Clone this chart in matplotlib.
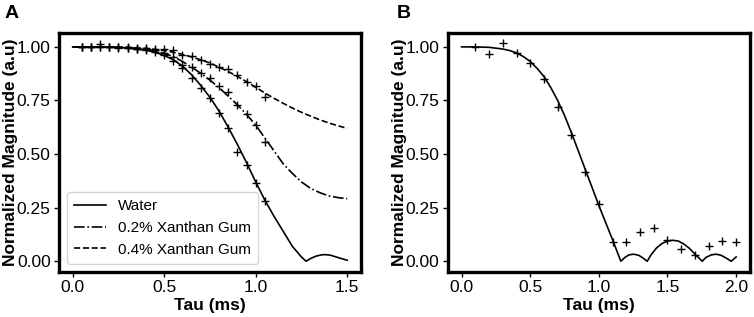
import matplotlib.pyplot as plt
import numpy as np

plt.rcParams['font.family'] = ['Liberation Sans', 'DejaVu Sans']

# ---- panel A : measured points (+) every 0.05 ms
tau_pts_a = np.round(np.arange(0.05, 1.051, 0.05), 2)
water_pts = [1.00, 1.00, 1.015, 1.00, 1.00, 0.995, 0.99, 0.985, 0.975, 0.96, 0.935,
             0.90, 0.857, 0.81, 0.76, 0.69, 0.62, 0.51, 0.447, 0.363, 0.28]
xg02_pts = [1.00, 1.00, 1.00, 1.00, 0.995, 0.995, 0.99, 0.99, 0.985, 0.97, 0.953,
            0.915, 0.905, 0.88, 0.857, 0.818, 0.79, 0.731, 0.685, 0.638, 0.557]
xg04_pts = [1.00, 1.00, 1.00, 1.00, 1.00, 1.00, 0.995, 0.995, 0.99, 0.99, 0.985,
            0.964, 0.958, 0.938, 0.922, 0.904, 0.896, 0.871, 0.837, 0.817, 0.767]

# ---- panel A : fitted curves
tau_fit_a = [0.0, 0.1, 0.2, 0.3, 0.4, 0.45, 0.5, 0.55, 0.6, 0.65, 0.7, 0.75, 0.8,
             0.85, 0.9, 0.95, 1.0, 1.05, 1.1, 1.15, 1.2, 1.25, 1.275, 1.3, 1.33,
             1.36, 1.38, 1.41, 1.44, 1.47, 1.5]
water_fit = [1.0, 1.0, 0.999, 0.995, 0.985, 0.975, 0.96, 0.94, 0.91, 0.87, 0.82,
             0.765, 0.70, 0.625, 0.545, 0.46, 0.37, 0.285, 0.21, 0.14, 0.07, 0.02,
             0.0, 0.013, 0.024, 0.03, 0.031, 0.028, 0.02, 0.012, 0.005]
tau_fit_b2 = [0.0, 0.1, 0.2, 0.3, 0.4, 0.5, 0.55, 0.6, 0.65, 0.7, 0.75, 0.8, 0.85,
              0.9, 0.95, 1.0, 1.05, 1.1, 1.15, 1.2, 1.25, 1.3, 1.35, 1.4, 1.45, 1.5]
xg02_fit = [1.0, 1.0, 1.0, 0.997, 0.99, 0.97, 0.955, 0.932, 0.905, 0.877, 0.845,
            0.81, 0.77, 0.73, 0.685, 0.635, 0.575, 0.515, 0.455, 0.41, 0.37, 0.34,
            0.32, 0.305, 0.297, 0.292]
xg04_fit = [1.0, 1.0, 1.0, 0.998, 0.993, 0.983, 0.975, 0.965, 0.953, 0.94, 0.925,
            0.905, 0.885, 0.862, 0.838, 0.812, 0.785, 0.76, 0.737, 0.715, 0.695,
            0.677, 0.66, 0.645, 0.632, 0.62]

# ---- panel B
tau_pts_b = np.round(np.arange(0.1, 2.01, 0.1), 1)
b_pts = [1.00, 0.969, 1.016, 0.972, 0.925, 0.851, 0.72, 0.588, 0.417, 0.266,
         0.09, 0.09, 0.137, 0.157, 0.101, 0.055, 0.028, 0.07, 0.095, 0.09]
tau_fit_b = [0.0, 0.1, 0.2, 0.3, 0.35, 0.4, 0.45, 0.5, 0.55, 0.6, 0.65, 0.7, 0.75,
             0.8, 0.85, 0.9, 0.95, 1.0, 1.05, 1.1, 1.13, 1.16, 1.19, 1.22, 1.255,
             1.29, 1.32, 1.352, 1.38, 1.42, 1.46, 1.5, 1.54, 1.58, 1.62, 1.66, 1.7,
             1.73, 1.753, 1.78, 1.82, 1.855, 1.89, 1.93, 1.964, 2.0]
b_fit = [1.0, 1.0, 0.998, 0.99, 0.983, 0.972, 0.955, 0.932, 0.90, 0.862, 0.81,
         0.75, 0.68, 0.60, 0.515, 0.43, 0.345, 0.26, 0.18, 0.10, 0.05, 0.0, 0.018,
         0.03, 0.033, 0.028, 0.016, 0.0, 0.03, 0.062, 0.083, 0.094, 0.098, 0.094,
         0.08, 0.06, 0.033, 0.015, 0.0, 0.018, 0.03, 0.033, 0.028, 0.014, 0.0, 0.02]

fig = plt.figure(figsize=(7.54, 3.17), dpi=100)
axA = fig.add_axes([0.0782, 0.142, 0.4005, 0.754])
axB = fig.add_axes([0.594, 0.142, 0.4005, 0.754])

lw = 1.2
axA.plot(tau_fit_a, water_fit, '-', color='k', lw=lw, label='Water')
axA.plot(tau_fit_b2, xg02_fit, '-.', color='k', lw=lw, label='0.2% Xanthan Gum')
axA.plot(tau_fit_b2, xg04_fit, '--', color='k', lw=lw, label='0.4% Xanthan Gum')
for pts in (water_pts, xg02_pts, xg04_pts):
    axA.plot(tau_pts_a, pts, '+', color='k', ms=6, mew=1.0)
axA.legend(loc='lower left', fontsize=11, handlelength=2.1, handletextpad=0.75,
           borderpad=0.5, labelspacing=0.5, borderaxespad=0.5)
axA.set_xticks([0.0, 0.5, 1.0, 1.5])

axB.plot(tau_fit_b, b_fit, '-', color='k', lw=lw)
axB.plot(tau_pts_b, b_pts, '+', color='k', ms=6, mew=1.0)
axB.set_xticks([0.0, 0.5, 1.0, 1.5, 2.0])

for ax in (axA, axB):
    ax.set_yticks([0.0, 0.25, 0.5, 0.75, 1.0])
    ax.set_ylim(-0.05, 1.065)
    ax.tick_params(labelsize=12.5, width=1.0, length=3.5, pad=2.5)
    ax.set_xlabel('Tau (ms)', fontsize=12.5, fontweight='bold', labelpad=2)
    ax.set_ylabel('Normalized Magnitude (a.u)', fontsize=12.5, fontweight='bold')
    ax.yaxis.set_label_coords(-0.137, 0.5)
    for s in ax.spines.values():
        s.set_linewidth(2.4)

fig.text(0.006, 0.985, 'A', fontsize=14, fontweight='bold', va='top')
fig.text(0.526, 0.985, 'B', fontsize=14, fontweight='bold', va='top')

fig.savefig('out.png', dpi=100)
